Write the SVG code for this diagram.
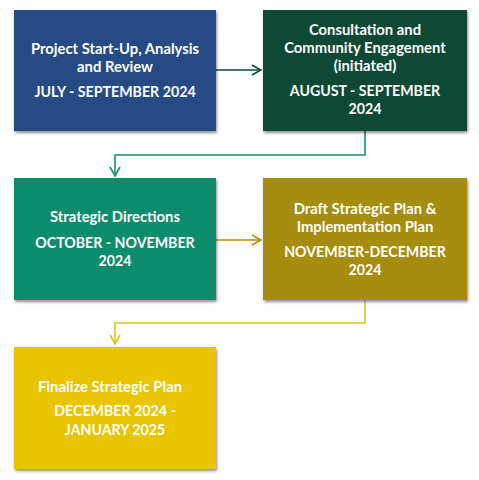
<svg xmlns="http://www.w3.org/2000/svg" width="479" height="480" viewBox="0 0 479 480">
<defs>
<filter id="sh" x="-10%" y="-10%" width="125%" height="125%">
<feGaussianBlur in="SourceAlpha" stdDeviation="1.5"/>
<feOffset dx="1" dy="2" result="b"/>
<feComponentTransfer><feFuncA type="linear" slope="0.45"/></feComponentTransfer>
<feMerge><feMergeNode/><feMergeNode in="SourceGraphic"/></feMerge>
</filter>
<marker id="ag1" viewBox="0 0 12 12" refX="11" refY="6" markerWidth="12" markerHeight="12" markerUnits="userSpaceOnUse" orient="auto"><path d="M2,1 L11,6 L2,11" fill="none" stroke="#0f4a36" stroke-width="1.6"/></marker>
<marker id="ag2" viewBox="0 0 12 12" refX="11" refY="6" markerWidth="12" markerHeight="12" markerUnits="userSpaceOnUse" orient="auto"><path d="M2,1 L11,6 L2,11" fill="none" stroke="#1a8f6f" stroke-width="1.6"/></marker>
<marker id="ag3" viewBox="0 0 12 12" refX="11" refY="6" markerWidth="12" markerHeight="12" markerUnits="userSpaceOnUse" orient="auto"><path d="M2,1 L11,6 L2,11" fill="none" stroke="#a78d08" stroke-width="1.6"/></marker>
<marker id="ag4" viewBox="0 0 12 12" refX="11" refY="6" markerWidth="12" markerHeight="12" markerUnits="userSpaceOnUse" orient="auto"><path d="M2,1 L11,6 L2,11" fill="none" stroke="#e2c21a" stroke-width="1.6"/></marker>
</defs>
<style>
text{font-family:"Lato","Open Sans","Liberation Sans",sans-serif;font-weight:bold;font-size:14.8px;fill:#ffffff;text-anchor:middle}
.d{font-size:14.2px}
.box{filter:url(#sh)}
.c{fill:none;stroke-width:1.6}
</style>
<rect width="479" height="480" fill="#ffffff"/>
<g id="connectors">
<path class="c" d="M216,70 L261,70" stroke="#0f4a36" marker-end="url(#ag1)"/>
<path class="c" d="M365,131 L365,155 L115,155 L115,176" stroke="#1a8f6f" marker-end="url(#ag2)"/>
<path class="c" d="M216,240 L261,240" stroke="#a78d08" marker-end="url(#ag3)"/>
<path class="c" d="M365,300 L365,323 L115,323 L115,344" stroke="#e2c21a" marker-end="url(#ag4)"/>
</g>
<g id="n1">
<rect class="box" x="14" y="10" width="202" height="121" fill="#264b84"/>
<text x="115" y="54">Project Start-Up, Analysis</text>
<text x="115" y="72">and Review</text>
<text class="d" x="115" y="97">JULY - SEPTEMBER 2024</text>
</g>
<g id="n2">
<rect class="box" x="263" y="10" width="204" height="121" fill="#0f4a36"/>
<text x="365" y="35">Consultation and</text>
<text x="365" y="53">Community Engagement</text>
<text x="365" y="71">(initiated)</text>
<text class="d" x="365" y="96">AUGUST - SEPTEMBER</text>
<text class="d" x="365" y="114">2024</text>
</g>
<g id="n3">
<rect class="box" x="14" y="178" width="202" height="122" fill="#0e8c6c"/>
<text x="115" y="222">Strategic Directions</text>
<text class="d" x="115" y="248">OCTOBER - NOVEMBER</text>
<text class="d" x="115" y="266">2024</text>
</g>
<g id="n4">
<rect class="box" x="263" y="178" width="204" height="122" fill="#a78d08"/>
<text x="365" y="214">Draft Strategic Plan &amp;</text>
<text x="365" y="232">Implementation Plan</text>
<text class="d" x="365" y="257">NOVEMBER-DECEMBER</text>
<text class="d" x="365" y="275">2024</text>
</g>
<g id="n5">
<rect class="box" x="14" y="347" width="202" height="122" fill="#e9c400"/>
<text x="110" y="392">Finalize Strategic Plan</text>
<text class="d" x="115" y="416">DECEMBER 2024 -</text>
<text class="d" x="115" y="435">JANUARY 2025</text>
</g>
</svg>
